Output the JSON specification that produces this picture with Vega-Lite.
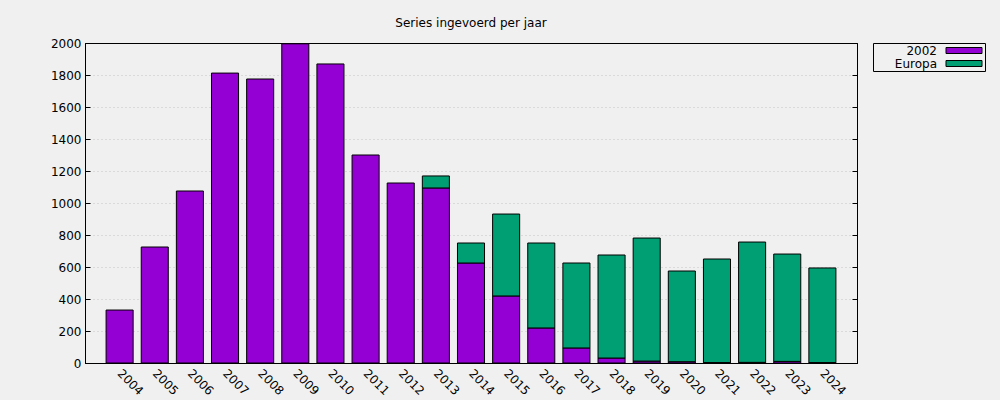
{
  "$schema": "https://vega.github.io/schema/vega-lite/v6.json",
  "autosize": "none",
  "width": 772,
  "height": 320,
  "padding": {"left": 85, "top": 43, "right": 143, "bottom": 37},
  "background": "#f0f0f0",
  "title": {"text": "Series ingevoerd per jaar", "font": "DejaVu Sans", "fontSize": 12, "fontWeight": "normal", "color": "#000000", "anchor": "middle", "offset": 7},
  "config": {
    "view": {"stroke": "#000000", "strokeWidth": 1},
    "font": "DejaVu Sans"
  },
  "data": {"values": [
    {"jaar": "2004", "serie": "2002", "o": 1, "aantal": 331},
    {"jaar": "2005", "serie": "2002", "o": 1, "aantal": 725},
    {"jaar": "2006", "serie": "2002", "o": 1, "aantal": 1075},
    {"jaar": "2007", "serie": "2002", "o": 1, "aantal": 1812},
    {"jaar": "2008", "serie": "2002", "o": 1, "aantal": 1775},
    {"jaar": "2009", "serie": "2002", "o": 1, "aantal": 1995},
    {"jaar": "2010", "serie": "2002", "o": 1, "aantal": 1869},
    {"jaar": "2011", "serie": "2002", "o": 1, "aantal": 1300},
    {"jaar": "2012", "serie": "2002", "o": 1, "aantal": 1125},
    {"jaar": "2013", "serie": "2002", "o": 1, "aantal": 1094},
    {"jaar": "2013", "serie": "Europa", "o": 2, "aantal": 75},
    {"jaar": "2014", "serie": "2002", "o": 1, "aantal": 625},
    {"jaar": "2014", "serie": "Europa", "o": 2, "aantal": 125},
    {"jaar": "2015", "serie": "2002", "o": 1, "aantal": 419},
    {"jaar": "2015", "serie": "Europa", "o": 2, "aantal": 512},
    {"jaar": "2016", "serie": "2002", "o": 1, "aantal": 219},
    {"jaar": "2016", "serie": "Europa", "o": 2, "aantal": 531},
    {"jaar": "2017", "serie": "2002", "o": 1, "aantal": 94},
    {"jaar": "2017", "serie": "Europa", "o": 2, "aantal": 531},
    {"jaar": "2018", "serie": "2002", "o": 1, "aantal": 31},
    {"jaar": "2018", "serie": "Europa", "o": 2, "aantal": 644},
    {"jaar": "2019", "serie": "2002", "o": 1, "aantal": 12},
    {"jaar": "2019", "serie": "Europa", "o": 2, "aantal": 769},
    {"jaar": "2020", "serie": "2002", "o": 1, "aantal": 8},
    {"jaar": "2020", "serie": "Europa", "o": 2, "aantal": 567},
    {"jaar": "2021", "serie": "2002", "o": 1, "aantal": 3},
    {"jaar": "2021", "serie": "Europa", "o": 2, "aantal": 647},
    {"jaar": "2022", "serie": "2002", "o": 1, "aantal": 4},
    {"jaar": "2022", "serie": "Europa", "o": 2, "aantal": 752},
    {"jaar": "2023", "serie": "2002", "o": 1, "aantal": 10},
    {"jaar": "2023", "serie": "Europa", "o": 2, "aantal": 671},
    {"jaar": "2024", "serie": "2002", "o": 1, "aantal": 3},
    {"jaar": "2024", "serie": "Europa", "o": 2, "aantal": 591}
  ]},
  "encoding": {
    "x": {
      "field": "jaar", "type": "ordinal",
      "scale": {"paddingInner": 0.23, "paddingOuter": 0.6},
      "axis": {
        "title": null, "labelAngle": 45, "labelAlign": "left", "labelBaseline": "middle",
        "labelFont": "DejaVu Sans", "labelFontSize": 12, "labelColor": "#000000",
        "labelPadding": 8, "ticks": false,
        "domainColor": "#000000", "grid": false
      }
    },
    "order": {"field": "o", "type": "quantitative"},
    "color": {
      "field": "serie", "type": "nominal",
      "scale": {"domain": ["2002", "Europa"], "range": ["#9400d3", "#009e73"]},
      "legend": {
        "title": null, "orient": "none", "legendX": 788, "legendY": 0,
        "strokeColor": "#000000", "fillColor": "#f0f0f0", "padding": 1,
        "symbolType": "M-3,-0.5H3V0.5H-3Z", "symbolSize": 144,
        "symbolStrokeColor": "#000000", "symbolStrokeWidth": 1,
        "symbolOffset": 83.5, "labelAlign": "right", "labelOffset": -33.5,
        "labelFont": "DejaVu Sans", "labelFontSize": 12, "labelColor": "#000000",
        "rowPadding": 0
      }
    }
  },
  "layer": [
    {
      "mark": {"type": "bar", "stroke": "#000000", "strokeWidth": 1},
      "encoding": {
        "y": {
          "field": "aantal", "type": "quantitative", "aggregate": "sum", "stack": "zero",
          "scale": {"domain": [0, 2000], "nice": false},
          "axis": {
            "title": null, "values": [0, 200, 400, 600, 800, 1000, 1200, 1400, 1600, 1800, 2000],
            "format": "d",
            "labelFont": "DejaVu Sans", "labelFontSize": 12, "labelColor": "#000000",
            "tickColor": "#000000", "tickSize": -5, "labelPadding": 9,
            "domainColor": "#000000",
            "grid": true,
            "gridColor": {"condition": {"test": "datum.value === 2000 || datum.value === 0", "value": "#000000"}, "value": "#c4c4c4"},
            "gridDash": {"condition": {"test": "datum.value === 2000 || datum.value === 0", "value": []}, "value": [1, 3]},
            "gridWidth": 1
          }
        }
      }
    },
    {
      "mark": {"type": "bar", "opacity": 0, "strokeWidth": 0},
      "encoding": {
        "y": {
          "field": "aantal", "type": "quantitative", "aggregate": "sum", "stack": "zero",
          "axis": {
            "orient": "right", "title": null, "labels": false, "domain": false, "grid": false,
            "values": [0, 200, 400, 600, 800, 1000, 1200, 1400, 1600, 1800, 2000],
            "tickColor": "#000000", "tickSize": -5
          }
        }
      }
    }
  ],
  "resolve": {"axis": {"y": "independent"}}
}
